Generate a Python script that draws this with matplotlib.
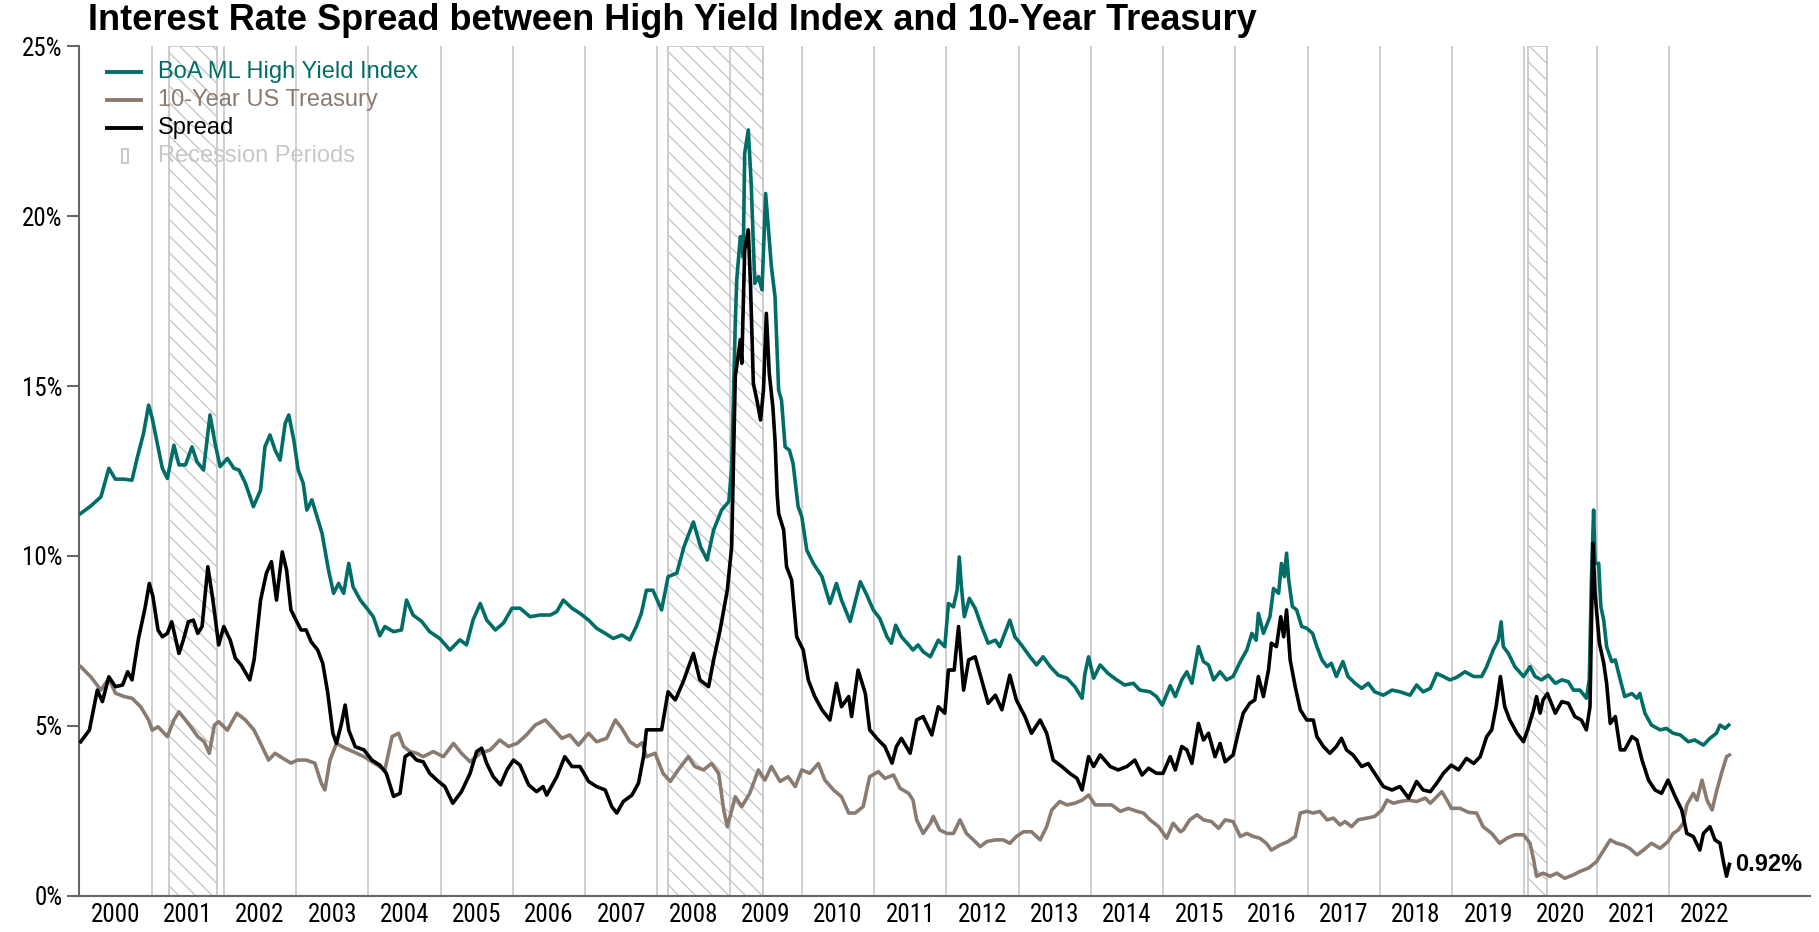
import matplotlib
matplotlib.use('Agg')
import matplotlib.pyplot as plt
from matplotlib import font_manager

# ----------------------------------------------------------------
# data (decimal years, percent)
# ----------------------------------------------------------------
hy_dates = [
    2000.02, 2000.16, 2000.30, 2000.41, 2000.50, 2000.62, 2000.73, 2000.80, 2000.89, 2000.96,
    2001.01, 2001.08, 2001.15, 2001.22, 2001.31, 2001.38, 2001.47, 2001.56, 2001.63, 2001.72,
    2001.81, 2001.88, 2001.95, 2002.05, 2002.14, 2002.21, 2002.30, 2002.41, 2002.51, 2002.57,
    2002.64, 2002.71, 2002.78, 2002.85, 2002.90, 2002.97, 2003.03, 2003.10, 2003.15, 2003.22,
    2003.27, 2003.36, 2003.45, 2003.52, 2003.59, 2003.66, 2003.73, 2003.79, 2003.89, 2003.98,
    2004.07, 2004.16, 2004.23, 2004.35, 2004.46, 2004.53, 2004.62, 2004.74, 2004.85, 2004.99,
    2005.13, 2005.27, 2005.36, 2005.45, 2005.55, 2005.64, 2005.76, 2005.87, 2005.99, 2006.10,
    2006.24, 2006.38, 2006.52, 2006.61, 2006.70, 2006.82, 2006.93, 2007.05, 2007.16, 2007.28,
    2007.39, 2007.51, 2007.62, 2007.71, 2007.78, 2007.85, 2007.94, 2008.06, 2008.15, 2008.27,
    2008.37, 2008.50, 2008.60, 2008.69, 2008.78, 2008.89, 2008.99, 2009.03, 2009.08, 2009.10,
    2009.15, 2009.19, 2009.21, 2009.26, 2009.30, 2009.35, 2009.40, 2009.45, 2009.50, 2009.55,
    2009.58, 2009.63, 2009.68, 2009.72, 2009.77, 2009.83, 2009.88, 2009.95, 2010.00, 2010.07,
    2010.16, 2010.28, 2010.39, 2010.48, 2010.55, 2010.67, 2010.81, 2010.90, 2010.99, 2011.08,
    2011.18, 2011.24, 2011.30, 2011.38, 2011.48, 2011.54, 2011.61, 2011.68, 2011.78, 2011.89,
    2011.98, 2012.03, 2012.10, 2012.15, 2012.18, 2012.21, 2012.25, 2012.32, 2012.40, 2012.49,
    2012.58, 2012.68, 2012.74, 2012.81, 2012.88, 2012.95, 2013.04, 2013.16, 2013.25, 2013.34,
    2013.44, 2013.55, 2013.67, 2013.78, 2013.88, 2013.92, 2013.97, 2014.04, 2014.13, 2014.24,
    2014.36, 2014.47, 2014.59, 2014.68, 2014.82, 2014.91, 2014.99, 2015.10, 2015.17, 2015.26,
    2015.33, 2015.40, 2015.49, 2015.56, 2015.63, 2015.70, 2015.79, 2015.88, 2015.97, 2016.07,
    2016.16, 2016.23, 2016.29, 2016.32, 2016.39, 2016.48, 2016.53, 2016.60, 2016.64, 2016.68,
    2016.71, 2016.74, 2016.79, 2016.85, 2016.92, 2016.99, 2017.07, 2017.13, 2017.20, 2017.27,
    2017.33, 2017.40, 2017.49, 2017.56, 2017.66, 2017.75, 2017.84, 2017.93, 2018.05, 2018.17,
    2018.28, 2018.42, 2018.51, 2018.60, 2018.70, 2018.79, 2018.88, 2018.97, 2019.06, 2019.18,
    2019.30, 2019.41, 2019.48, 2019.57, 2019.64, 2019.68, 2019.71, 2019.78, 2019.87, 2019.99,
    2020.08, 2020.15, 2020.24, 2020.33, 2020.43, 2020.52, 2020.61, 2020.68, 2020.77, 2020.86,
    2020.90, 2020.93, 2020.96, 2020.98, 2021.03, 2021.06, 2021.10, 2021.14, 2021.21, 2021.26,
    2021.33, 2021.39, 2021.49, 2021.56, 2021.60, 2021.67, 2021.76, 2021.88, 2021.97, 2022.06,
    2022.16, 2022.27, 2022.36, 2022.48, 2022.57, 2022.66, 2022.71, 2022.78, 2022.83,
]
hy_yield = [
    11.25, 11.47, 11.74, 12.58, 12.26, 12.26, 12.23, 12.87, 13.61, 14.44,
    14.05, 13.31, 12.58, 12.28, 13.26, 12.68, 12.68, 13.21, 12.77, 12.53,
    14.15, 13.31, 12.63, 12.87, 12.58, 12.53, 12.14, 11.45, 11.94, 13.21,
    13.56, 13.12, 12.82, 13.90, 14.15, 13.41, 12.53, 12.14, 11.35, 11.65,
    11.30, 10.67, 9.58, 8.90, 9.19, 8.90, 9.78, 9.09, 8.70, 8.46,
    8.21, 7.65, 7.92, 7.77, 7.82, 8.70, 8.26, 8.07, 7.77, 7.57,
    7.23, 7.53, 7.38, 8.11, 8.60, 8.11, 7.82, 8.02, 8.46, 8.46,
    8.21, 8.26, 8.26, 8.36, 8.70, 8.46, 8.31, 8.11, 7.87, 7.72,
    7.57, 7.67, 7.53, 7.92, 8.31, 8.99, 8.99, 8.41, 9.39, 9.49,
    10.27, 11.00, 10.27, 9.88, 10.76, 11.35, 11.60, 12.60, 16.85, 18.12,
    19.40, 18.81, 21.85, 22.54, 20.97, 18.02, 18.22, 17.83, 20.67, 19.30,
    18.51, 17.63, 14.88, 14.58, 13.21, 13.11, 12.72, 11.45, 11.16, 10.17,
    9.78, 9.39, 8.60, 9.19, 8.70, 8.07, 9.24, 8.85, 8.41, 8.16,
    7.62, 7.43, 7.96, 7.62, 7.38, 7.23, 7.38, 7.18, 7.03, 7.52,
    7.33, 8.60, 8.50, 8.99, 9.97, 9.09, 8.21, 8.75, 8.46, 7.92,
    7.43, 7.52, 7.33, 7.72, 8.11, 7.62, 7.38, 7.03, 6.79, 7.03,
    6.74, 6.49, 6.40, 6.15, 5.81, 6.54, 7.03, 6.40, 6.79, 6.54,
    6.35, 6.20, 6.25, 6.05, 6.00, 5.86, 5.61, 6.18, 5.86, 6.35,
    6.59, 6.25, 7.33, 6.89, 6.79, 6.35, 6.59, 6.35, 6.45, 6.89,
    7.23, 7.72, 7.52, 8.31, 7.72, 8.21, 9.04, 8.90, 9.78, 9.39,
    10.08, 9.29, 8.51, 8.41, 7.92, 7.87, 7.72, 7.33, 6.94, 6.74,
    6.84, 6.45, 6.89, 6.45, 6.25, 6.10, 6.25, 6.00, 5.90, 6.05,
    6.00, 5.90, 6.20, 6.00, 6.10, 6.54, 6.45, 6.35, 6.42, 6.59,
    6.45, 6.45, 6.74, 7.23, 7.52, 8.06, 7.33, 7.13, 6.74, 6.45,
    6.74, 6.45, 6.35, 6.49, 6.25, 6.35, 6.30, 6.05, 6.05, 5.81,
    6.35, 9.29, 11.35, 9.78, 9.78, 8.51, 8.11, 7.33, 6.89, 6.94,
    6.35, 5.86, 5.95, 5.81, 5.95, 5.37, 5.02, 4.88, 4.92, 4.78,
    4.73, 4.53, 4.58, 4.43, 4.63, 4.78, 5.02, 4.92, 5.02,
]

ust_dates = [
    2000.02, 2000.16, 2000.30, 2000.41, 2000.50, 2000.62, 2000.73, 2000.85, 2000.96, 2001.01,
    2001.09, 2001.22, 2001.31, 2001.38, 2001.47, 2001.56, 2001.64, 2001.73, 2001.80, 2001.87,
    2001.93, 2002.05, 2002.18, 2002.30, 2002.42, 2002.51, 2002.62, 2002.71, 2002.82, 2002.93,
    2003.02, 2003.14, 2003.26, 2003.35, 2003.40, 2003.47, 2003.56, 2003.68, 2003.79, 2003.94,
    2004.08, 2004.23, 2004.33, 2004.42, 2004.49, 2004.58, 2004.67, 2004.76, 2004.90, 2005.04,
    2005.18, 2005.29, 2005.41, 2005.55, 2005.69, 2005.82, 2005.94, 2006.06, 2006.19, 2006.31,
    2006.45, 2006.56, 2006.68, 2006.79, 2006.91, 2007.05, 2007.16, 2007.30, 2007.42, 2007.51,
    2007.62, 2007.72, 2007.79, 2007.85, 2007.97, 2008.08, 2008.18, 2008.29, 2008.43, 2008.52,
    2008.64, 2008.75, 2008.85, 2008.92, 2008.97, 2009.08, 2009.17, 2009.28, 2009.40, 2009.49,
    2009.58, 2009.70, 2009.81, 2009.91, 2010.00, 2010.11, 2010.23, 2010.32, 2010.44, 2010.55,
    2010.65, 2010.74, 2010.85, 2010.94, 2011.06, 2011.15, 2011.27, 2011.36, 2011.48, 2011.54,
    2011.59, 2011.68, 2011.78, 2011.82, 2011.91, 2012.01, 2012.10, 2012.19, 2012.28, 2012.40,
    2012.47, 2012.56, 2012.68, 2012.79, 2012.88, 2012.97, 2013.07, 2013.18, 2013.30, 2013.39,
    2013.46, 2013.57, 2013.67, 2013.78, 2013.88, 2013.97, 2014.06, 2014.17, 2014.29, 2014.41,
    2014.52, 2014.64, 2014.73, 2014.82, 2014.94, 2015.05, 2015.14, 2015.24, 2015.28, 2015.37,
    2015.47, 2015.56, 2015.67, 2015.77, 2015.86, 2015.97, 2016.07, 2016.16, 2016.25, 2016.34,
    2016.43, 2016.50, 2016.62, 2016.73, 2016.83, 2016.90, 2016.99, 2017.08, 2017.17, 2017.27,
    2017.36, 2017.45, 2017.52, 2017.61, 2017.70, 2017.82, 2017.93, 2018.03, 2018.10, 2018.19,
    2018.28, 2018.40, 2018.51, 2018.63, 2018.70, 2018.79, 2018.86, 2018.93, 2018.99, 2019.11,
    2019.23, 2019.34, 2019.43, 2019.55, 2019.66, 2019.76, 2019.87, 2019.99, 2020.08, 2020.13,
    2020.17, 2020.26, 2020.36, 2020.45, 2020.56, 2020.68, 2020.77, 2020.89, 2021.00, 2021.10,
    2021.19, 2021.28, 2021.37, 2021.46, 2021.56, 2021.65, 2021.76, 2021.88, 2021.99, 2022.06,
    2022.13, 2022.20, 2022.25, 2022.34, 2022.39, 2022.46, 2022.53, 2022.60, 2022.66, 2022.73,
    2022.80, 2022.84,
]
ust_yield = [
    6.74, 6.44, 6.05, 6.40, 5.96, 5.86, 5.81, 5.56, 5.17, 4.87,
    4.97, 4.68, 5.17, 5.41, 5.17, 4.92, 4.68, 4.53, 4.19, 5.02,
    5.12, 4.87, 5.37, 5.17, 4.87, 4.48, 3.99, 4.19, 4.04, 3.90,
    3.99, 3.99, 3.90, 3.31, 3.11, 3.99, 4.48, 4.34, 4.24, 4.09,
    3.90, 3.70, 4.68, 4.78, 4.39, 4.24, 4.19, 4.09, 4.24, 4.09,
    4.48, 4.19, 3.94, 4.19, 4.29, 4.58, 4.39, 4.48, 4.73, 5.02,
    5.17, 4.92, 4.63, 4.73, 4.43, 4.78, 4.53, 4.63, 5.17, 4.92,
    4.53, 4.39, 4.50, 4.09, 4.19, 3.60, 3.36, 3.70, 4.09, 3.80,
    3.70, 3.89, 3.60, 2.52, 2.03, 2.91, 2.62, 3.01, 3.70, 3.40,
    3.80, 3.36, 3.50, 3.21, 3.70, 3.60, 3.89, 3.40, 3.11, 2.91,
    2.43, 2.43, 2.62, 3.50, 3.65, 3.45, 3.55, 3.16, 3.01, 2.81,
    2.23, 1.83, 2.13, 2.33, 1.93, 1.83, 1.83, 2.23, 1.83, 1.59,
    1.44, 1.59, 1.64, 1.64, 1.54, 1.74, 1.88, 1.88, 1.64, 2.03,
    2.52, 2.77, 2.67, 2.72, 2.81, 2.96, 2.67, 2.67, 2.67, 2.48,
    2.57, 2.48, 2.43, 2.23, 2.03, 1.69, 2.13, 1.88, 1.93, 2.23,
    2.38, 2.23, 2.18, 1.98, 2.23, 2.18, 1.74, 1.83, 1.74, 1.69,
    1.54, 1.34, 1.49, 1.59, 1.74, 2.43, 2.48, 2.43, 2.48, 2.23,
    2.28, 2.08, 2.18, 2.03, 2.23, 2.28, 2.33, 2.52, 2.81, 2.72,
    2.77, 2.81, 2.77, 2.87, 2.72, 2.91, 3.06, 2.81, 2.57, 2.57,
    2.45, 2.43, 2.03, 1.83, 1.54, 1.69, 1.79, 1.79, 1.54, 1.05,
    0.57, 0.66, 0.57, 0.66, 0.51, 0.61, 0.71, 0.81, 1.00, 1.34,
    1.64, 1.54, 1.49, 1.39, 1.20, 1.34, 1.54, 1.39, 1.59, 1.83,
    1.93, 2.13, 2.67, 3.01, 2.81, 3.40, 2.81, 2.52, 3.06, 3.60,
    4.09, 4.14,
]

spread_dates = [
    2000.02, 2000.14, 2000.25, 2000.32, 2000.41, 2000.50, 2000.60, 2000.67, 2000.73, 2000.82,
    2000.91, 2000.97, 2001.02, 2001.09, 2001.15, 2001.22, 2001.28, 2001.38, 2001.44, 2001.51,
    2001.58, 2001.64, 2001.70, 2001.78, 2001.85, 2001.93, 2002.00, 2002.09, 2002.16, 2002.24,
    2002.36, 2002.42, 2002.51, 2002.59, 2002.66, 2002.73, 2002.81, 2002.87, 2002.93, 2003.00,
    2003.07, 2003.14, 2003.21, 2003.30, 2003.37, 2003.44, 2003.51, 2003.56, 2003.63, 2003.68,
    2003.73, 2003.82, 2003.94, 2004.05, 2004.16, 2004.25, 2004.35, 2004.44, 2004.51, 2004.58,
    2004.67, 2004.76, 2004.85, 2004.95, 2005.06, 2005.17, 2005.29, 2005.41, 2005.50, 2005.57,
    2005.64, 2005.73, 2005.83, 2005.92, 2006.01, 2006.10, 2006.22, 2006.33, 2006.42, 2006.47,
    2006.61, 2006.72, 2006.82, 2006.93, 2007.05, 2007.16, 2007.28, 2007.37, 2007.44, 2007.53,
    2007.65, 2007.74, 2007.81, 2007.85, 2007.94, 2008.06, 2008.15, 2008.25, 2008.36, 2008.50,
    2008.59, 2008.71, 2008.78, 2008.87, 2008.97, 2009.03, 2009.08, 2009.15, 2009.17, 2009.21,
    2009.26, 2009.29, 2009.33, 2009.38, 2009.43, 2009.47, 2009.51, 2009.55, 2009.60, 2009.63,
    2009.66, 2009.68, 2009.75, 2009.79, 2009.86, 2009.93, 2010.02, 2010.09, 2010.18, 2010.28,
    2010.39, 2010.48, 2010.55, 2010.65, 2010.69, 2010.78, 2010.88, 2010.94, 2011.06, 2011.15,
    2011.25, 2011.31, 2011.38, 2011.50, 2011.59, 2011.68, 2011.80, 2011.89, 2011.98, 2012.03,
    2012.11, 2012.17, 2012.24, 2012.31, 2012.40, 2012.49, 2012.58, 2012.68, 2012.77, 2012.88,
    2012.97, 2013.09, 2013.18, 2013.30, 2013.39, 2013.48, 2013.60, 2013.71, 2013.81, 2013.88,
    2013.97, 2014.04, 2014.13, 2014.27, 2014.38, 2014.50, 2014.61, 2014.71, 2014.80, 2014.91,
    2015.00, 2015.10, 2015.17, 2015.26, 2015.33, 2015.40, 2015.49, 2015.56, 2015.63, 2015.72,
    2015.79, 2015.86, 2015.97, 2016.04, 2016.11, 2016.20, 2016.27, 2016.32, 2016.39, 2016.46,
    2016.50, 2016.57, 2016.63, 2016.67, 2016.71, 2016.76, 2016.83, 2016.90, 2016.99, 2017.08,
    2017.13, 2017.22, 2017.31, 2017.40, 2017.47, 2017.54, 2017.63, 2017.75, 2017.84, 2017.93,
    2018.05, 2018.17, 2018.28, 2018.40, 2018.51, 2018.60, 2018.70, 2018.79, 2018.88, 2018.99,
    2019.09, 2019.20, 2019.30, 2019.39, 2019.48, 2019.55, 2019.61, 2019.67, 2019.73, 2019.80,
    2019.90, 2019.99, 2020.06, 2020.13, 2020.17, 2020.22, 2020.26, 2020.32, 2020.43, 2020.52,
    2020.61, 2020.70, 2020.79, 2020.86, 2020.91, 2020.95, 2020.98, 2021.04, 2021.10, 2021.14,
    2021.19, 2021.26, 2021.33, 2021.39, 2021.49, 2021.56, 2021.63, 2021.72, 2021.81, 2021.90,
    2021.99, 2022.09, 2022.18, 2022.25, 2022.34, 2022.43, 2022.48, 2022.57, 2022.64, 2022.71,
    2022.76, 2022.80, 2022.84,
]
spread = [
    4.53, 4.87, 6.05, 5.71, 6.44, 6.15, 6.20, 6.59, 6.35, 7.57,
    8.46, 9.19, 8.80, 7.82, 7.62, 7.72, 8.06, 7.13, 7.52, 8.06,
    8.11, 7.72, 7.92, 9.68, 8.70, 7.38, 7.92, 7.52, 6.99, 6.79,
    6.35, 6.94, 8.70, 9.49, 9.83, 8.70, 10.12, 9.58, 8.41, 8.11,
    7.82, 7.82, 7.47, 7.23, 6.84, 5.96, 4.78, 4.48, 5.07, 5.61,
    4.87, 4.38, 4.29, 3.99, 3.84, 3.60, 2.92, 3.01, 4.09, 4.19,
    3.99, 3.94, 3.60, 3.40, 3.21, 2.72, 3.06, 3.60, 4.24, 4.34,
    3.89, 3.50, 3.26, 3.70, 3.99, 3.84, 3.26, 3.06, 3.21, 2.96,
    3.50, 4.09, 3.80, 3.80, 3.36, 3.21, 3.11, 2.62, 2.43, 2.77,
    2.96, 3.31, 4.09, 4.88, 4.88, 4.88, 6.00, 5.76, 6.30, 7.13,
    6.35, 6.15, 6.94, 7.82, 9.00, 10.27, 15.28, 16.36, 15.67, 19.00,
    19.60, 18.02, 15.08, 14.58, 14.00, 14.88, 17.14, 15.38, 14.39, 13.41,
    11.80, 11.25, 10.76, 9.68, 9.29, 7.62, 7.23, 6.35, 5.86, 5.47,
    5.17, 6.25, 5.56, 5.86, 5.27, 6.64, 5.95, 4.88, 4.58, 4.39,
    3.90, 4.39, 4.63, 4.19, 5.17, 5.27, 4.73, 5.56, 5.37, 6.64,
    6.64, 7.92, 6.05, 6.94, 7.03, 6.35, 5.66, 5.90, 5.47, 6.49,
    5.76, 5.27, 4.78, 5.17, 4.78, 3.99, 3.80, 3.60, 3.45, 3.11,
    4.09, 3.80, 4.14, 3.80, 3.70, 3.80, 3.99, 3.55, 3.75, 3.60,
    3.60, 4.09, 3.70, 4.39, 4.29, 3.89, 5.07, 4.58, 4.78, 4.09,
    4.48, 3.94, 4.14, 4.78, 5.37, 5.66, 5.76, 6.45, 5.86, 6.64,
    7.43, 7.33, 8.21, 7.62, 8.41, 6.94, 6.15, 5.47, 5.17, 5.17,
    4.68, 4.39, 4.19, 4.39, 4.63, 4.29, 4.14, 3.80, 3.89, 3.60,
    3.21, 3.11, 3.21, 2.87, 3.36, 3.11, 3.06, 3.31, 3.60, 3.84,
    3.70, 4.04, 3.89, 4.09, 4.68, 4.88, 5.56, 6.45, 5.56, 5.17,
    4.78, 4.53, 4.97, 5.47, 5.86, 5.37, 5.76, 5.95, 5.37, 5.71,
    5.66, 5.27, 5.17, 4.88, 5.56, 10.37, 8.90, 7.43, 6.84, 6.25,
    5.07, 5.27, 4.29, 4.29, 4.68, 4.58, 3.99, 3.40, 3.11, 3.01,
    3.40, 2.91, 2.52, 1.83, 1.74, 1.34, 1.83, 2.03, 1.64, 1.54,
    0.96, 0.57, 0.92,
]

# recession periods (start, end) in decimal years
recessions = [(2001.24, 2001.91), (2008.15, 2009.47), (2020.05, 2020.31)]

years = list(range(2000, 2023))

teal = '#006e66'
taupe = '#8a7b71'
grey_line = '#cccccc'
axis_grey = '#666666'


# pick a narrow face for the tick labels if one is installed
def narrow_family():
    for name in ['Liberation Sans Narrow', 'Roboto Condensed', 'DejaVu Sans Condensed']:
        try:
            font_manager.findfont(font_manager.FontProperties(family=name),
                                  fallback_to_default=False)
            return name, 18
        except ValueError:
            pass
    return 'Liberation Sans', 15


tick_family, tick_size = narrow_family()

# ----------------------------------------------------------------
# figure
# ----------------------------------------------------------------
W, H = 1819, 932
fig = plt.figure(figsize=(W / 100, H / 100), dpi=100)
ax = fig.add_axes([79.25 / W, 1 - 895.6 / H, (1810 - 79.25) / W, (895.6 - 46.4) / H])

plt.rcParams['hatch.linewidth'] = 1.0

for y in years[1:]:
    ax.axvline(y, color=grey_line, lw=1.3, zorder=1)

for start, end in recessions:
    ax.axvspan(start, end, facecolor='none', edgecolor='#c8c8c8', hatch='\\\\',
               lw=1.3, zorder=1)

ax.plot(hy_dates, hy_yield, color=teal, lw=2.6, zorder=3)
ax.plot(ust_dates, ust_yield, color=taupe, lw=2.6, zorder=3)
ax.plot(spread_dates, spread, color='black', lw=2.6, zorder=4)

ax.text(spread_dates[-1] + 0.08, spread[-1], f'{spread[-1]:.2f}%', fontsize=17,
        fontweight='bold', va='center', ha='left', family=['Liberation Sans'])

ax.set_xlim(2000, 2023.955)
ax.set_ylim(0, 25)

for s in ['top', 'right']:
    ax.spines[s].set_visible(False)
for s in ['left', 'bottom']:
    ax.spines[s].set_color(axis_grey)
    ax.spines[s].set_linewidth(1.5)

ax.set_yticks(range(0, 26, 5))
ax.set_yticklabels([f'{v}%' for v in range(0, 26, 5)])
ax.tick_params(axis='y', length=9, width=1.5, color=axis_grey, pad=3, labelsize=tick_size)
ax.set_xticks([y + 0.5 for y in years])
ax.set_xticklabels([str(y) for y in years])
ax.tick_params(axis='x', length=0, pad=5, labelsize=tick_size)
for lab in ax.get_xticklabels() + ax.get_yticklabels():
    lab.set_family(tick_family)

fig.text(88 / W, 1 - 21 / H, 'Interest Rate Spread between High Yield Index and 10-Year Treasury',
         fontsize=26, fontweight='bold', va='center', ha='left', family=['Liberation Sans'])

# ----------------------------------------------------------------
# legend drawn by hand (pixel positions from the reference)
# ----------------------------------------------------------------
legend_items = [('BoA ML High Yield Index', teal), ('10-Year US Treasury', taupe),
                ('Spread', 'black')]
for i, (label, col) in enumerate(legend_items):
    yy = 1 - (72 + i * 28) / H
    fig.add_artist(plt.Line2D([107 / W, 141 / W], [yy, yy], color=col, lw=2.8))
    fig.text(158 / W, yy, label, color=col, fontsize=17, va='center', ha='left',
             family=['Liberation Sans'])
yy = 1 - (72 + 3 * 28) / H
fig.add_artist(plt.Rectangle((122 / W, yy - 7 / H), 6 / W, 14 / H, facecolor='none',
                             edgecolor='#c4c4c4', lw=1.3))
fig.text(158 / W, yy, 'Recession Periods', color='#c8c8c8', fontsize=17, va='center',
         ha='left', family=['Liberation Sans'])

fig.savefig('out.png', dpi=100)
